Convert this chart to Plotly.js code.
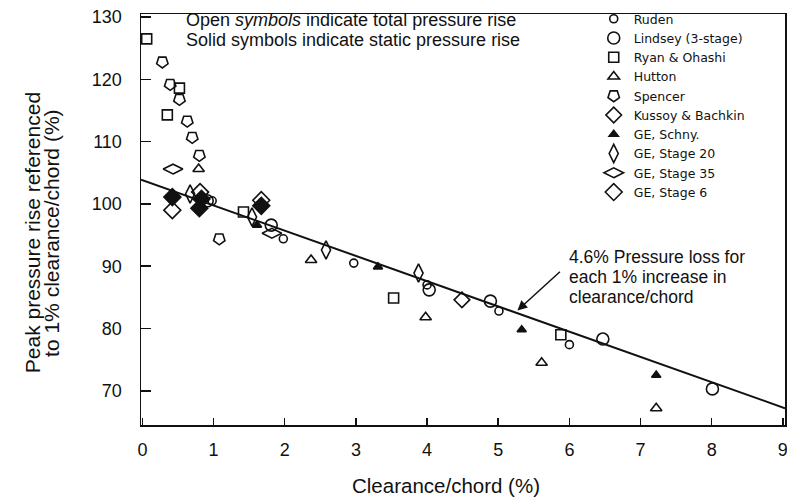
<!DOCTYPE html>
<html><head><meta charset="utf-8">
<script src="https://cdn.plot.ly/plotly-3.0.1.min.js"></script>
<style>html,body{margin:0;padding:0;background:#fff}#chart{width:787px;height:500px}</style>
</head><body><div id="chart"></div>
<script>
// Data (clearance/chord %, peak pressure rise %)
const rudenX = [0.98, 1.98, 2.97, 4.00, 5.01, 6.00];
const rudenY = [100.5, 94.4, 90.5, 87.0, 82.8, 77.4];
const lindseyX = [0.91, 1.81, 4.03, 4.89, 6.47, 8.01];
const lindseyY = [100.5, 96.6, 86.2, 84.4, 78.3, 70.3];
const ryanX = [0.06, 0.52, 0.35, 1.42, 3.53, 5.88];
const ryanY = [126.5, 118.6, 114.3, 98.7, 84.9, 79.0];
const huttonX = [0.79, 2.37, 3.98, 5.61, 7.22];
const huttonY = [105.6, 91.0, 81.8, 74.5, 67.2];
const spencerX = [0.28, 0.39, 0.52, 0.63, 0.70, 0.80, 1.08];
const spencerY = [122.8, 119.2, 116.8, 113.3, 110.7, 107.8, 94.4];
const kussoyX = [4.49];
const kussoyY = [84.6];
const schnyX = [1.61, 3.31, 5.33, 7.22];
const schnyY = [96.6, 89.9, 79.8, 72.5];
const st20X = [0.67, 1.54, 2.58, 3.88];
const st20Y = [101.6, 97.9, 92.6, 88.9];
const st35X = [0.43, 1.82];
const st35Y = [105.6, 95.3];
const st6X = [0.42, 0.81, 1.67];
const st6Y = [99.0, 101.9, 100.6];
const st6SolidX = [0.42, 0.83, 0.80, 1.67];
const st6SolidY = [101.1, 100.8, 99.3, 99.7];
const fitX = [-0.02, 9.03];
const fitY = [103.9, 67.2];
const xTicks = [0, 1, 2, 3, 4, 5, 6, 7, 8, 9];
const yTicks = [70, 80, 90, 100, 110, 120, 130];

const K = '#111';
function tr(name, x, y, symbol, size, extra) {
  return Object.assign({
    type: 'scatter', mode: 'markers', name: name, x: x, y: y,
    marker: {symbol: symbol, size: size, color: K, line: {color: K, width: 1.6}}
  }, extra || {});
}
const data = [
  {type: 'scatter', mode: 'lines', x: fitX, y: fitY, showlegend: false, line: {color: K, width: 2}},
  tr('Ruden', rudenX, rudenY, 'circle-open', 8),
  tr('Lindsey (3-stage)', lindseyX, lindseyY, 'circle-open', 12),
  tr('Ryan &amp; Ohashi', ryanX, ryanY, 'square-open', 10),
  tr('Hutton', huttonX, huttonY, 'triangle-up-open', 10),
  tr('Spencer', spencerX, spencerY, 'pentagon-open', 12),
  tr('Kussoy &amp; Bachkin', kussoyX, kussoyY, 'diamond-open', 12),
  tr('GE, Schny.', schnyX, schnyY, 'triangle-up', 8),
  tr('GE, Stage 20', st20X, st20Y, 'diamond-tall-open', 13),
  tr('GE, Stage 35', st35X, st35Y, 'diamond-wide-open', 14),
  tr('GE, Stage 6', st6X, st6Y, 'diamond-open', 13),
  tr('GE, Stage 6 (static)', st6SolidX, st6SolidY, 'diamond', 13, {showlegend: false})
];
data[5].marker.angle = 180;

const F = 'Liberation Sans, Arial, sans-serif';
const FD = 'DejaVu Sans, sans-serif';
function note(text, x, y, size, extra) {
  return Object.assign({xref: 'paper', yref: 'paper', x: x, y: y, xanchor: 'left', yanchor: 'middle',
    showarrow: false, text: text, font: {family: F, size: size, color: K}}, extra || {});
}
const layout = {
  width: 787, height: 500,
  margin: {l: 141, r: 2, t: 14, b: 75},
  paper_bgcolor: '#fff', plot_bgcolor: '#fff',
  font: {family: F, color: K, size: 14},
  showlegend: true,
  legend: {x: 0.703, y: 1.024, xanchor: 'left', yanchor: 'top', bgcolor: 'rgba(0,0,0,0)',
           font: {family: FD, size: 12.5, color: K}, tracegroupgap: 0, itemwidth: 30},
  xaxis: {range: [-0.02, 9.03], tickvals: xTicks, ticks: 'inside', ticklen: 7, tickwidth: 1.5, tickcolor: K,
          showline: true, linecolor: K, linewidth: 1.5, mirror: true, showgrid: false, zeroline: false,
          tickfont: {family: F, size: 18, color: K}, ticklabelstandoff: 8, ticklabeloverflow: 'allow'},
  yaxis: {range: [64.5, 130.5], tickvals: yTicks, ticks: 'inside', ticklen: 10, tickwidth: 1.5, tickcolor: K,
          showline: true, linecolor: K, linewidth: 1.5, mirror: true, showgrid: false, zeroline: false,
          tickfont: {family: F, size: 18, color: K}, ticklabelstandoff: 14},
  annotations: [
    note('Open <i>symbols</i> indicate total pressure rise', 0.066, 0.985, 18),
    note('Solid symbols indicate static pressure rise', 0.066, 0.937, 18),
    {xref: 'x', yref: 'y', x: 5.96, y: 93.4, xanchor: 'left', yanchor: 'top', align: 'left', showarrow: false,
     text: '4.6% Pressure loss for', font: {family: F, size: 17.5, color: K}},
    {xref: 'x', yref: 'y', x: 5.96, y: 90.2, xanchor: 'left', yanchor: 'top', align: 'left', showarrow: false,
     text: 'each 1% increase in', font: {family: F, size: 17.5, color: K}},
    {xref: 'x', yref: 'y', x: 5.96, y: 87.0, xanchor: 'left', yanchor: 'top', align: 'left', showarrow: false,
     text: 'clearance/chord', font: {family: F, size: 17.5, color: K}},
    {xref: 'x', yref: 'y', x: 5.27, y: 82.9, ax: 44, ay: -40, showarrow: true, arrowhead: 2, arrowsize: 1.3,
     arrowwidth: 1.5, arrowcolor: K, text: ''},
    // axis titles
    note('Clearance/chord (%)', 0.474, -0.148, 20.5, {xanchor: 'center'}),
    note('Peak pressure rise referenced', -0.169, 0.467, 21, {xanchor: 'center', textangle: -90}),
    note('to 1% clearance/chord (%)', -0.140, 0.467, 21, {xanchor: 'center', textangle: -90})
  ]
};
Plotly.newPlot('chart', data, layout, {staticPlot: true});
</script></body></html>
